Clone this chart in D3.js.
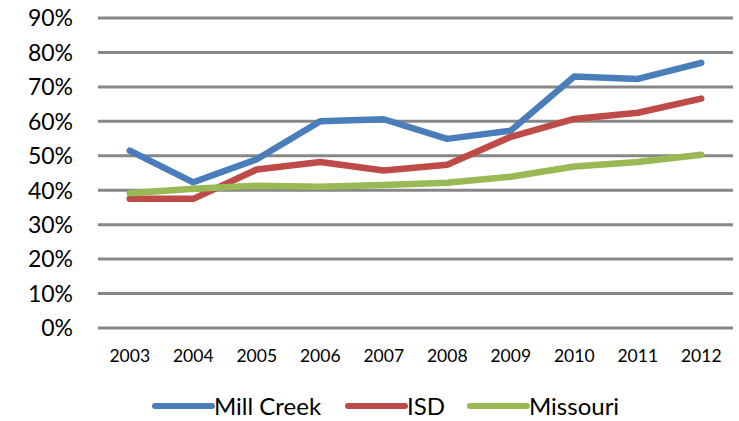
<!DOCTYPE html>
<html>
<head>
<meta charset="utf-8">
<script src="https://cdn.jsdelivr.net/npm/d3@7"></script>
<style>
  body { margin: 0; background: #fff; }
  svg text { font-family: Lato, "Open Sans", sans-serif; fill: #000; }
</style>
</head>
<body>
<svg width="739" height="421"></svg>
<script>
const svg = d3.select('svg');

// data
const years = ['2003','2004','2005','2006','2007','2008','2009','2010','2011','2012'];
const millCreek = [51.5, 42.3, 49, 60, 60.6, 54.9, 57.3, 73, 72.3, 77];
const isd = [37.5, 37.5, 46, 48.2, 45.7, 47.4, 55.5, 60.7, 62.5, 66.6];
const missouri = [39.1, 40.4, 41.3, 41, 41.5, 42.2, 43.9, 46.9, 48.2, 50.3];
const yTicks = [0, 10, 20, 30, 40, 50, 60, 70, 80, 90];

const series = [
  { name: 'Mill Creek', values: millCreek, color: '#4A7EBB' },
  { name: 'ISD', values: isd, color: '#BE4B48' },
  { name: 'Missouri', values: missouri, color: '#98B954' }
];

const plotLeft = 98, plotRight = 733, plotTop = 18, plotBottom = 328;

const x = d3.scaleBand()
  .domain(years)
  .range([plotLeft, plotRight]);

const y = d3.scaleLinear()
  .domain([0, 90])
  .range([plotBottom, plotTop]);

// gridlines
svg.append('g')
  .selectAll('line')
  .data(yTicks)
  .enter()
    .append('line')
    .attr('x1', plotLeft)
    .attr('x2', plotRight)
    .attr('y1', d => y(d))
    .attr('y2', d => y(d))
    .attr('stroke', '#878787')
    .attr('stroke-width', 3);

// y axis labels
svg.append('g')
  .selectAll('text')
  .data(yTicks)
  .enter()
    .append('text')
    .attr('x', 73)
    .attr('y', d => y(d))
    .attr('dy', '0.36em')
    .attr('text-anchor', 'end')
    .style('font-size', '23px')
    .text(d => d + '%');

// x axis labels
svg.append('g')
  .selectAll('text')
  .data(years)
  .enter()
    .append('text')
    .attr('x', d => x(d) + x.bandwidth() / 2)
    .attr('y', 356)
    .attr('dy', '0.36em')
    .attr('text-anchor', 'middle')
    .style('font-size', '17.5px')
    .text(d => d);

const line = d3.line()
  .x((d, i) => x(years[i]) + x.bandwidth() / 2)
  .y(d => y(d));

svg.append('g')
  .selectAll('path')
  .data(series)
  .enter()
    .append('path')
    .attr('d', d => line(d.values))
    .attr('fill', 'none')
    .attr('stroke', d => d.color)
    .attr('stroke-width', 6.5)
    .attr('stroke-linejoin', 'round')
    .attr('stroke-linecap', 'round');

// legend
const legendX = [155, 348, 470];
const legend = svg.append('g')
  .selectAll('g')
  .data(series)
  .enter()
    .append('g')
    .attr('transform', (d, i) => `translate(${legendX[i]},406)`);

legend.append('line')
  .attr('x1', 0)
  .attr('x2', 57)
  .attr('stroke', d => d.color)
  .attr('stroke-width', 6)
  .attr('stroke-linecap', 'round');

legend.append('text')
  .attr('x', 59)
  .attr('dy', '0.36em')
  .style('font-size', '24px')
  .text(d => d.name);
</script>
</body>
</html>
